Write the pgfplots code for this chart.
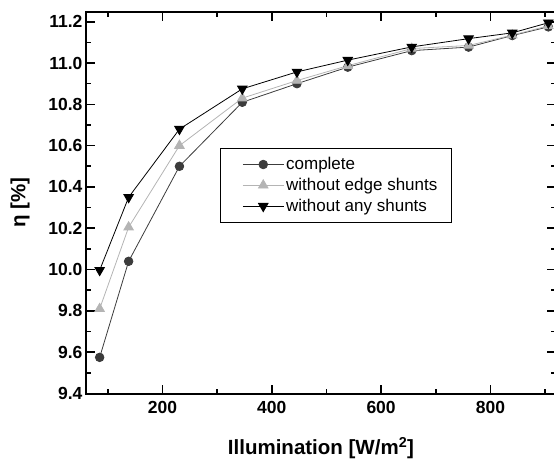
\documentclass[border=0pt]{standalone}
\usepackage{fontspec}
\setmainfont{Liberation Sans}
\usepackage{pgfplots}
\pgfplotsset{compat=1.18}
\definecolor{cdark}{RGB}{60,60,60}
\definecolor{clight}{RGB}{180,180,180}
\begin{document}
\begin{tikzpicture}
\begin{axis}[
  scale only axis, width=470pt, height=381.5pt,
  at={(0,0)}, anchor=south west,
  xmin=60, xmax=920, ymin=9.4, ymax=11.247,
  xtick={200,400,600,800}, minor xtick={100,300,500,700,900},
  ytick={9.4,9.6,9.8,10.0,10.2,10.4,10.6,10.8,11.0,11.2},
  minor ytick={9.5,9.7,9.9,10.1,10.3,10.5,10.7,10.9,11.1},
  yticklabel style={/pgf/number format/.cd, fixed, fixed zerofill, precision=1},
  xticklabel style={yshift=-4pt, /pgf/number format/.cd, fixed},
  /pgf/number format/assume math mode=true,
  tick label style={font=\fontsize{17.5}{20}\selectfont\bfseries},
  tick align=inside, tick pos=both,
  major tick length=9pt, minor tick length=5pt,
  every tick/.style={black, line width=1.6pt},
  axis line style={line width=2pt},
  xlabel={Illumination [W/m\textsuperscript{2}]},
  ylabel={η [\%]},
  label style={font=\fontsize{20.5}{24}\selectfont\bfseries},
  xlabel style={yshift=-17pt},
  ylabel style={yshift=12pt},
  legend cell align=left,
  legend style={at={(0.285,0.643)}, anchor=north west, draw=black, line width=0.8pt,
    font=\fontsize{17}{20}\selectfont, inner xsep=12pt, inner ysep=7pt, row sep=3pt},
  legend image code/.code={\path (0pt,0pt); \draw[mark repeat=2,mark phase=2] plot coordinates {(10pt,0pt) (30.5pt,0pt) (51pt,0pt)};},
]
\addplot[cdark, line width=0.8pt, mark=*, mark size=4.3pt, mark options={solid, fill=cdark}] coordinates {
(85,9.575) (138,10.04) (231,10.50) (346,10.81) (446,10.90) (539,10.98) (656,11.06) (760,11.077) (840,11.133) (906,11.175)};
\addlegendentry{complete}
\addplot[clight, line width=0.8pt, mark=triangle*, mark size=5.5pt, mark options={solid, fill=clight}] coordinates {
(85,9.81) (138,10.205) (231,10.60) (346,10.83) (446,10.915) (539,10.987) (656,11.07) (760,11.085) (840,11.135) (906,11.18)};
\addlegendentry{without edge shunts}
\addplot[black, line width=0.8pt, mark=triangle*, mark size=5.5pt, mark options={solid, fill=black, rotate=180}] coordinates {
(85,9.997) (138,10.35) (231,10.68) (346,10.875) (446,10.957) (539,11.014) (656,11.078) (760,11.118) (840,11.146) (906,11.195)};
\addlegendentry{without any shunts}
\end{axis}
\pgfresetboundingbox
\path (-86pt,-65.5pt) rectangle (468pt,393.5pt);
\end{tikzpicture}
\end{document}
